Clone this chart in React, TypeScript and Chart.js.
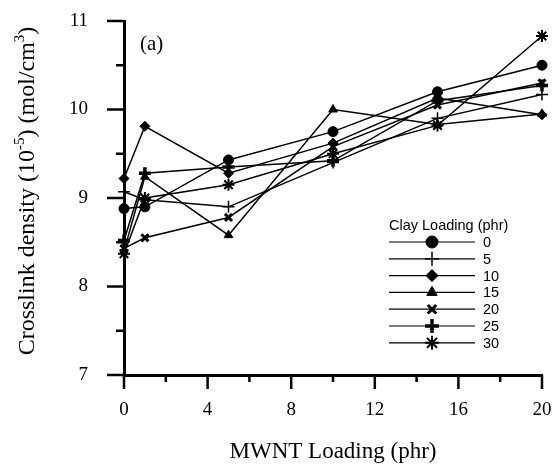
import React, { useEffect, useRef } from 'react';
import { Chart, registerables } from 'chart.js';
import { drawPoint } from 'chart.js/helpers';

Chart.register(...registerables);

const mwntLoading = [0, 1, 5, 10, 15, 20];
const clayLoadings = ['0', '5', '10', '15', '20', '25', '30'];
const clay0 = [8.88, 8.9, 9.43, 9.75, 10.2, 10.5];
const clay5 = [9.07, 8.98, 8.9, 9.4, 9.9, 10.17];
const clay10 = [9.22, 9.81, 9.28, 9.62, 10.13, 9.94];
const clay15 = [8.4, 9.24, 8.58, 10.0, 9.83, 9.95];
const clay20 = [8.43, 8.55, 8.78, 9.58, 10.05, 10.3];
const clay25 = [8.52, 9.28, 9.35, 9.42, 10.1, 10.27];
const clay30 = [8.37, 9.0, 9.15, 9.5, 9.82, 10.83];
const seriesValues = [clay0, clay5, clay10, clay15, clay20, clay25, clay30];

const markerStyles = [
  { pointStyle: 'circle', radius: 5, borderWidth: 1 },
  { pointStyle: 'cross', radius: 6, borderWidth: 1.5 },
  { pointStyle: 'rectRot', radius: 5, borderWidth: 1 },
  { pointStyle: 'triangle', radius: 5, borderWidth: 1 },
  { pointStyle: 'crossRot', radius: 5, borderWidth: 3 },
  { pointStyle: 'cross', radius: 6, borderWidth: 3.5 },
  { pointStyle: 'star', radius: 6, borderWidth: 2 },
];

const SERIF = '"Liberation Serif", "Times New Roman", serif';
const SANS = '"Liberation Sans", Arial, sans-serif';

const decorPlugin = {
  id: 'decor',
  afterDraw(chart: any) {
    const ctx = chart.ctx;
    const xs = chart.scales.x;
    const ys = chart.scales.y;
    const area = chart.chartArea;
    ctx.save();
    ctx.strokeStyle = '#000';
    ctx.fillStyle = '#000';
    // y ticks
    ctx.lineWidth = 2.5;
    for (let v = 7; v <= 11.001; v += 0.5) {
      const y = ys.getPixelForValue(v);
      const len = Math.abs(v - Math.round(v)) < 1e-6 ? 17 : 8;
      ctx.beginPath();
      ctx.moveTo(area.left - len, y);
      ctx.lineTo(area.left, y);
      ctx.stroke();
    }
    // x ticks
    for (let v = 0; v <= 20.001; v += 2) {
      const x = xs.getPixelForValue(v);
      const len = v % 4 === 0 ? 14 : 7;
      ctx.beginPath();
      ctx.moveTo(x, area.bottom);
      ctx.lineTo(x, area.bottom + len);
      ctx.stroke();
    }
    // (a)
    ctx.font = `21px ${SERIF}`;
    ctx.textAlign = 'left';
    ctx.textBaseline = 'middle';
    ctx.fillText('(a)', 140, 44);

    // x title
    ctx.font = `23px ${SERIF}`;
    ctx.textAlign = 'center';
    ctx.fillText('MWNT Loading (phr)', (area.left + area.right) / 2, 452);

    // y title with superscripts
    const segs = [
      { t: 'Crosslink density (10', sup: false },
      { t: '-5', sup: true },
      { t: ') (mol/cm', sup: false },
      { t: '3', sup: true },
      { t: ')', sup: false },
    ];
    const big = `24px ${SERIF}`;
    const small = `15px ${SERIF}`;
    let total = 0;
    for (const s of segs) {
      ctx.font = s.sup ? small : big;
      total += ctx.measureText(s.t).width;
    }
    ctx.translate(28, 191);
    ctx.rotate(-Math.PI / 2);
    ctx.textAlign = 'left';
    ctx.textBaseline = 'middle';
    let cx = -total / 2;
    for (const s of segs) {
      ctx.font = s.sup ? small : big;
      ctx.fillText(s.t, cx, s.sup ? -8 : 0);
      cx += ctx.measureText(s.t).width;
    }
    ctx.setTransform(1, 0, 0, 1, 0, 0);

    // legend
    ctx.font = `14.5px ${SANS}`;
    ctx.textAlign = 'left';
    ctx.textBaseline = 'middle';
    ctx.fillText('Clay Loading (phr)', 389, 226);
    clayLoadings.forEach((lab, i) => {
      const y = 242 + i * 16.8;
      ctx.lineWidth = 1.2;
      ctx.beginPath();
      ctx.moveTo(389, y);
      ctx.lineTo(475, y);
      ctx.stroke();
      const m = markerStyles[i];
      ctx.lineWidth = m.borderWidth;
      drawPoint(ctx, { pointStyle: m.pointStyle, radius: m.radius + 1, rotation: 0, borderWidth: m.borderWidth }, 432, y);
      ctx.fillText(lab, 483, y + 1);
    });
    ctx.restore();
  },
};

export default function App() {
  const ref = useRef<HTMLCanvasElement>(null);
  useEffect(() => {
    if (!ref.current) return;
    const datasets = seriesValues.map((vals, i) => ({
      label: clayLoadings[i],
      data: mwntLoading.map((x, j) => ({ x, y: vals[j] })),
      borderColor: '#000',
      backgroundColor: '#000',
      borderWidth: 1.5,
      pointStyle: markerStyles[i].pointStyle,
      pointRadius: markerStyles[i].radius,
      pointBorderWidth: markerStyles[i].borderWidth,
      pointBackgroundColor: '#000',
      pointBorderColor: '#000',
      tension: 0,
      clip: false,
    }));
    const chart = new Chart(ref.current, {
      type: 'line',
      data: { datasets },
      options: {
        animation: false,
        responsive: false,
        layout: { padding: { top: 21, right: 13, left: 0, bottom: 0 } },
        plugins: { legend: { display: false }, tooltip: { enabled: false } },
        scales: {
          x: {
            type: 'linear',
            min: 0,
            max: 20,
            grid: { display: false, drawTicks: true, tickLength: 22 },
            border: { display: true, color: '#000', width: 3 },
            ticks: {
              stepSize: 2,
              autoSkip: false,
              maxRotation: 0,
              padding: 2,
              color: '#000',
              font: { family: SERIF, size: 19 },
              callback: (v: any) => (Number(v) % 4 === 0 ? String(v) : ''),
            },
            afterFit: (s: any) => { s.height = 93; },
          },
          y: {
            type: 'linear',
            min: 7,
            max: 11,
            grid: { display: false, drawTicks: true, tickLength: 30 },
            border: { display: true, color: '#000', width: 3 },
            ticks: {
              stepSize: 0.5,
              autoSkip: false,
              padding: 6,
              color: '#000',
              font: { family: SERIF, size: 19 },
              callback: (v: any) => (Number.isInteger(Number(v)) ? String(v) : ''),
            },
            afterFit: (s: any) => { s.width = 124; },
          },
        },
      },
      plugins: [decorPlugin],
    });
    return () => chart.destroy();
  }, []);
  return (
    <div style={{ position: 'fixed', left: 0, top: 0, width: 555, height: 468, background: '#fff' }}>
      <canvas ref={ref} width={555} height={468} style={{ width: 555, height: 468 }} />
    </div>
  );
}
